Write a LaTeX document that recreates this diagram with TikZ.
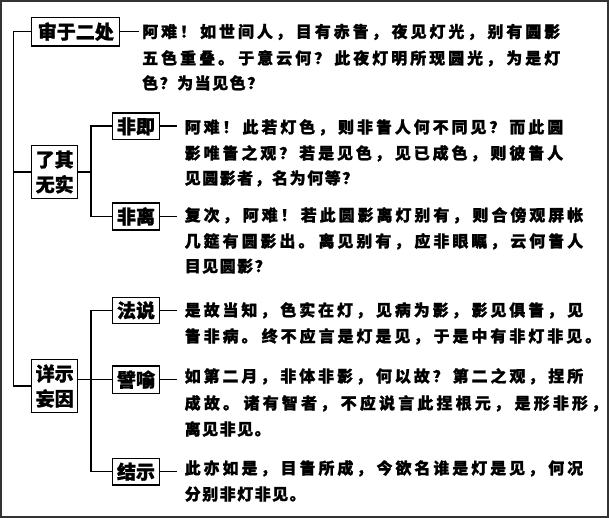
\documentclass[tikz,border=0pt]{standalone}
\usepackage{fontspec}
\setmainfont{Noto Sans CJK SC}[BoldFeatures={FakeBold=1.2}]
\ExplSyntaxOn
\bool_new:N \l_my_first_bool
\bool_new:N \l_my_punct_bool
\cs_new_protected:Npn \my_chars:nn #1 #2
  {
    \bool_set_true:N \l_my_first_bool
    \bool_set_false:N \l_my_punct_bool
    \tl_map_inline:nn {#2}
      {
        \bool_if:NF \l_my_first_bool
          {
            \bool_if:NTF \l_my_punct_bool
              { \skip_horizontal:n { 1.5pt~plus~1fil } }
              { \skip_horizontal:n { 1.5pt~plus~#1fil } }
          }
        \bool_set_false:N \l_my_first_bool
        ##1
        \tl_if_in:nnTF { ，。！？ } {##1}
          { \bool_set_true:N \l_my_punct_bool }
          { \bool_set_false:N \l_my_punct_bool }
      }
  }
\NewDocumentCommand \jfull { m m } { \makebox[#1][s]{ \my_chars:nn {0.55} {#2} } }
\NewDocumentCommand \jnat { m } { \my_chars:nn {0} {#1} }
\ExplSyntaxOff
\begin{document}
\begin{tikzpicture}[x=1pt,y=-1pt,
  lab/.style={draw, line width=1.3pt, inner sep=0pt, align=center,
    font=\fontsize{19}{25}\selectfont\bfseries},
  lab1/.style={lab, text height=15.8pt, text depth=1.3pt},
  txt/.style={anchor=base west, inner sep=0pt,
    font=\fontsize{16}{18}\selectfont\bfseries},
  conn/.style={line width=1.4pt}]
\useasboundingbox (0,0) rectangle (609,518);
\draw[line width=2.4pt, black!80] (1.2,1.2) rectangle (607.8,516.8);

% label boxes
\node[lab1, minimum width=88pt, minimum height=28.7pt] (b1) at (75.8,31.7) {审于二处};
\node[lab, minimum width=46pt, minimum height=53pt] (b2) at (54.7,172) {了其\\无实};
\node[lab1, minimum width=46.6pt, minimum height=26.3pt] (b3) at (136,126.2) {非即};
\node[lab1, minimum width=46.6pt, minimum height=27pt] (b4) at (136,216.5) {非离};
\node[lab1, minimum width=46.6pt, minimum height=26pt] (b5) at (136,310.3) {法说};
\node[lab, minimum width=46pt, minimum height=53.4pt] (b6) at (54.7,386) {详示\\妄因};
\node[lab1, minimum width=46.6pt, minimum height=27.3pt] (b7) at (136,379.7) {譬喻};
\node[lab1, minimum width=46.6pt, minimum height=26.7pt] (b8) at (136,471.7) {结示};

% texts
\node[txt] (a1) at (142,37.6) {\jfull{418pt}{阿难！如世间人，目有赤眚，夜见灯光，别有圆影}};
\node[txt] (a2) at (142,64.1) {\jfull{418pt}{五色重叠。于意云何？此夜灯明所现圆光，为是灯}};
\node[txt] (a3) at (142,89.1) {\jnat{色？为当见色？}};

\node[txt] (c1) at (184.5,133.1) {\jfull{378.5pt}{阿难！此若灯色，则非眚人何不同见？而此圆}};
\node[txt] (c2) at (184.5,159.1) {\jfull{378.5pt}{影唯眚之观？若是见色，见已成色，则彼眚人}};
\node[txt] (c3) at (184.5,184.1) {\jnat{见圆影者，名为何等？}};

\node[txt] (d1) at (184.5,221.1) {\jfull{398.5pt}{复次，阿难！若此圆影离灯别有，则合傍观屏帐}};
\node[txt] (d2) at (184.5,247.1) {\jfull{398.5pt}{几筵有圆影出。离见别有，应非眼瞩，云何眚人}};
\node[txt] (d3) at (184.5,272.1) {\jnat{目见圆影？}};

\node[txt] (e1) at (184.5,316.1) {\jfull{398.5pt}{是故当知，色实在灯，见病为影，影见俱眚，见}};
\node[txt] (e2) at (184.5,342.1) {\jfull{416.5pt}{眚非病。终不应言是灯是见，于是中有非灯非见。}};

\node[txt] (f1) at (184.5,382.1) {\jfull{398.5pt}{如第二月，非体非影，何以故？第二之观，捏所}};
\node[txt] (f2) at (184.5,409.1) {\jfull{422.5pt}{成故。诸有智者，不应说言此捏根元，是形非形，}};
\node[txt] (f3) at (184.5,435.1) {\jnat{离见非见。}};

\node[txt] (g1) at (184.5,474.1) {\jfull{398.5pt}{此亦如是，目眚所成，今欲名谁是灯是见，何况}};
\node[txt] (g2) at (184.5,500.1) {\jnat{分别非灯非见。}};

% connectors
\coordinate (mx) at (13.5,0);
\coordinate (tx) at (91,0);
\coordinate (s0) at (139,0);
\coordinate (sx) at (177,0);
\draw[conn] (b1.west) -| (mx |- b6.west) -- (b6.west);
\draw[conn] (b2.west) -- (mx |- b2.west);
\draw[conn] (b2.east) -- (tx |- b2.east);
\draw[conn] (b3.west) -| (tx |- b4.west) -- (b4.west);
\draw[conn] (b5.west) -| (tx |- b8.west) -- (b8.west);
\draw[conn] (b6.east |- b7.west) -- (b7.west);
% stubs
\draw[conn] (b1.east) -- (b1.east -| s0);
\foreach \b in {b3,b4,b5,b7,b8}
  \draw[conn] (\b.east) -- (\b.east -| sx);
\end{tikzpicture}
\end{document}
